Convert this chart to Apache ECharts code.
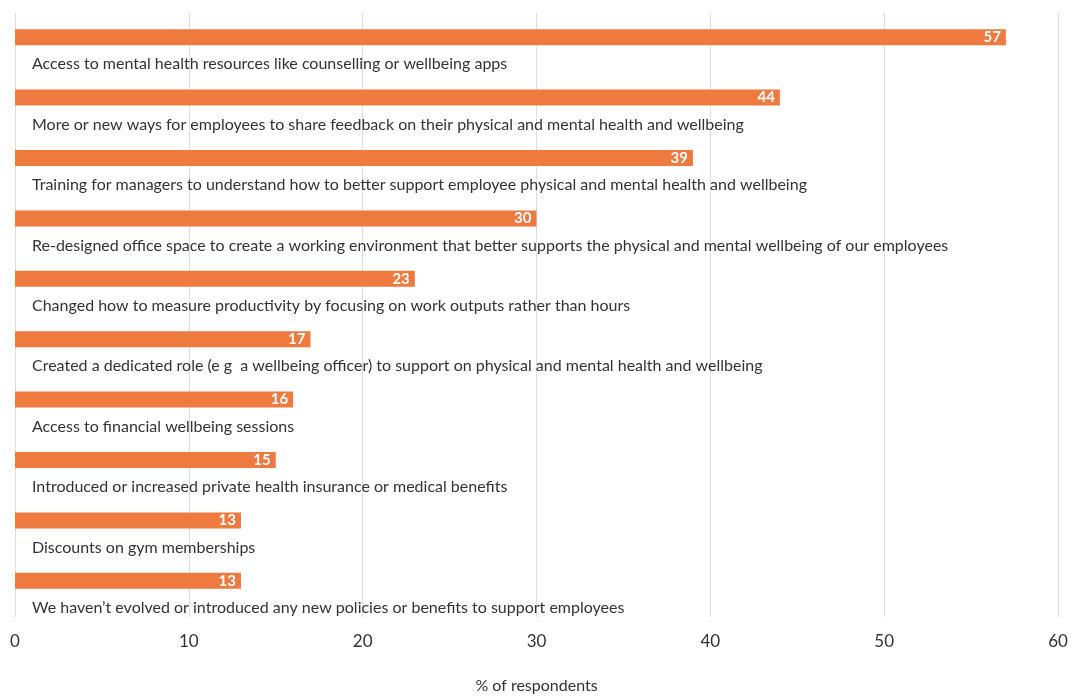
<!DOCTYPE html>
<html>
<head>
<meta charset="utf-8">
<title>Workplace wellbeing changes</title>
<script src="https://cdn.jsdelivr.net/npm/echarts@6/dist/echarts.min.js"></script>
<style>
  html, body { margin: 0; padding: 0; background: #ffffff; }
  #chart { width: 1071px; height: 699px; }
</style>
</head>
<body>
<div id="chart"></div>
<script>
// Survey answers, top to bottom
const categories = [
  "Access to mental health resources like counselling or wellbeing apps",
  "More or new ways for employees to share feedback on their physical and mental health and wellbeing",
  "Training for managers to understand how to better support employee physical and mental health and wellbeing",
  "Re-designed office space to create a working environment that better supports the physical and mental wellbeing of our employees",
  "Changed how to measure productivity by focusing on work outputs rather than hours",
  "Created a dedicated role (e g  a wellbeing officer) to support on physical and mental health and wellbeing",
  "Access to financial wellbeing sessions",
  "Introduced or increased private health insurance or medical benefits",
  "Discounts on gym memberships",
  "We haven\u2019t evolved or introduced any new policies or benefits to support employees"
];

// Share of respondents (%)
const respondents = [57, 44, 39, 30, 23, 17, 16, 15, 13, 13];

const xTicks = { min: 0, max: 60, step: 10 };
const xAxisName = "% of respondents";

const FONT = "Lato, 'Noto Sans', sans-serif";
const ORANGE = "#EE7A40";
const TEXT = "#333333";

const chart = echarts.init(document.getElementById("chart"), null, { renderer: "canvas" });

chart.setOption({
  animation: false,
  backgroundColor: "#ffffff",
  grid: { left: 15, right: 13, top: 13, bottom: 69, containLabel: false },
  xAxis: {
    type: "value",
    min: xTicks.min,
    max: xTicks.max,
    interval: xTicks.step,
    axisLine: { show: false },
    axisTick: { show: false },
    splitLine: { show: true, lineStyle: { color: "#dedede", width: 1 } },
    axisLabel: { color: TEXT, fontFamily: FONT, fontSize: 17, margin: 16 },
    name: xAxisName,
    nameLocation: "middle",
    nameGap: 61,
    nameTextStyle: { color: TEXT, fontFamily: FONT, fontSize: 16 }
  },
  yAxis: {
    type: "category",
    inverse: true,
    data: categories,
    axisLine: { show: false },
    axisTick: { show: false },
    axisLabel: { show: false },
    splitLine: { show: false }
  },
  series: [
    {
      name: "respondents",
      type: "bar",
      data: respondents,
      barWidth: 16,
      barGap: "0%",
      itemStyle: { color: ORANGE },
      label: {
        show: true,
        position: "insideRight",
        distance: 5,
        color: "#ffffff",
        fontFamily: FONT,
        fontWeight: "bold",
        fontSize: 15,
        formatter: p => p.value
      }
    },
    {
      // transparent companion bar that carries the answer text under each bar
      name: "answer",
      type: "bar",
      data: respondents,
      barWidth: 12,
      itemStyle: { color: "rgba(0,0,0,0)" },
      silent: true,
      label: {
        show: true,
        position: "insideLeft",
        distance: 17,
        offset: [0, 13],
        color: TEXT,
        fontFamily: FONT,
        fontSize: 16,
        formatter: p => categories[p.dataIndex]
      }
    }
  ]
});
</script>
</body>
</html>
